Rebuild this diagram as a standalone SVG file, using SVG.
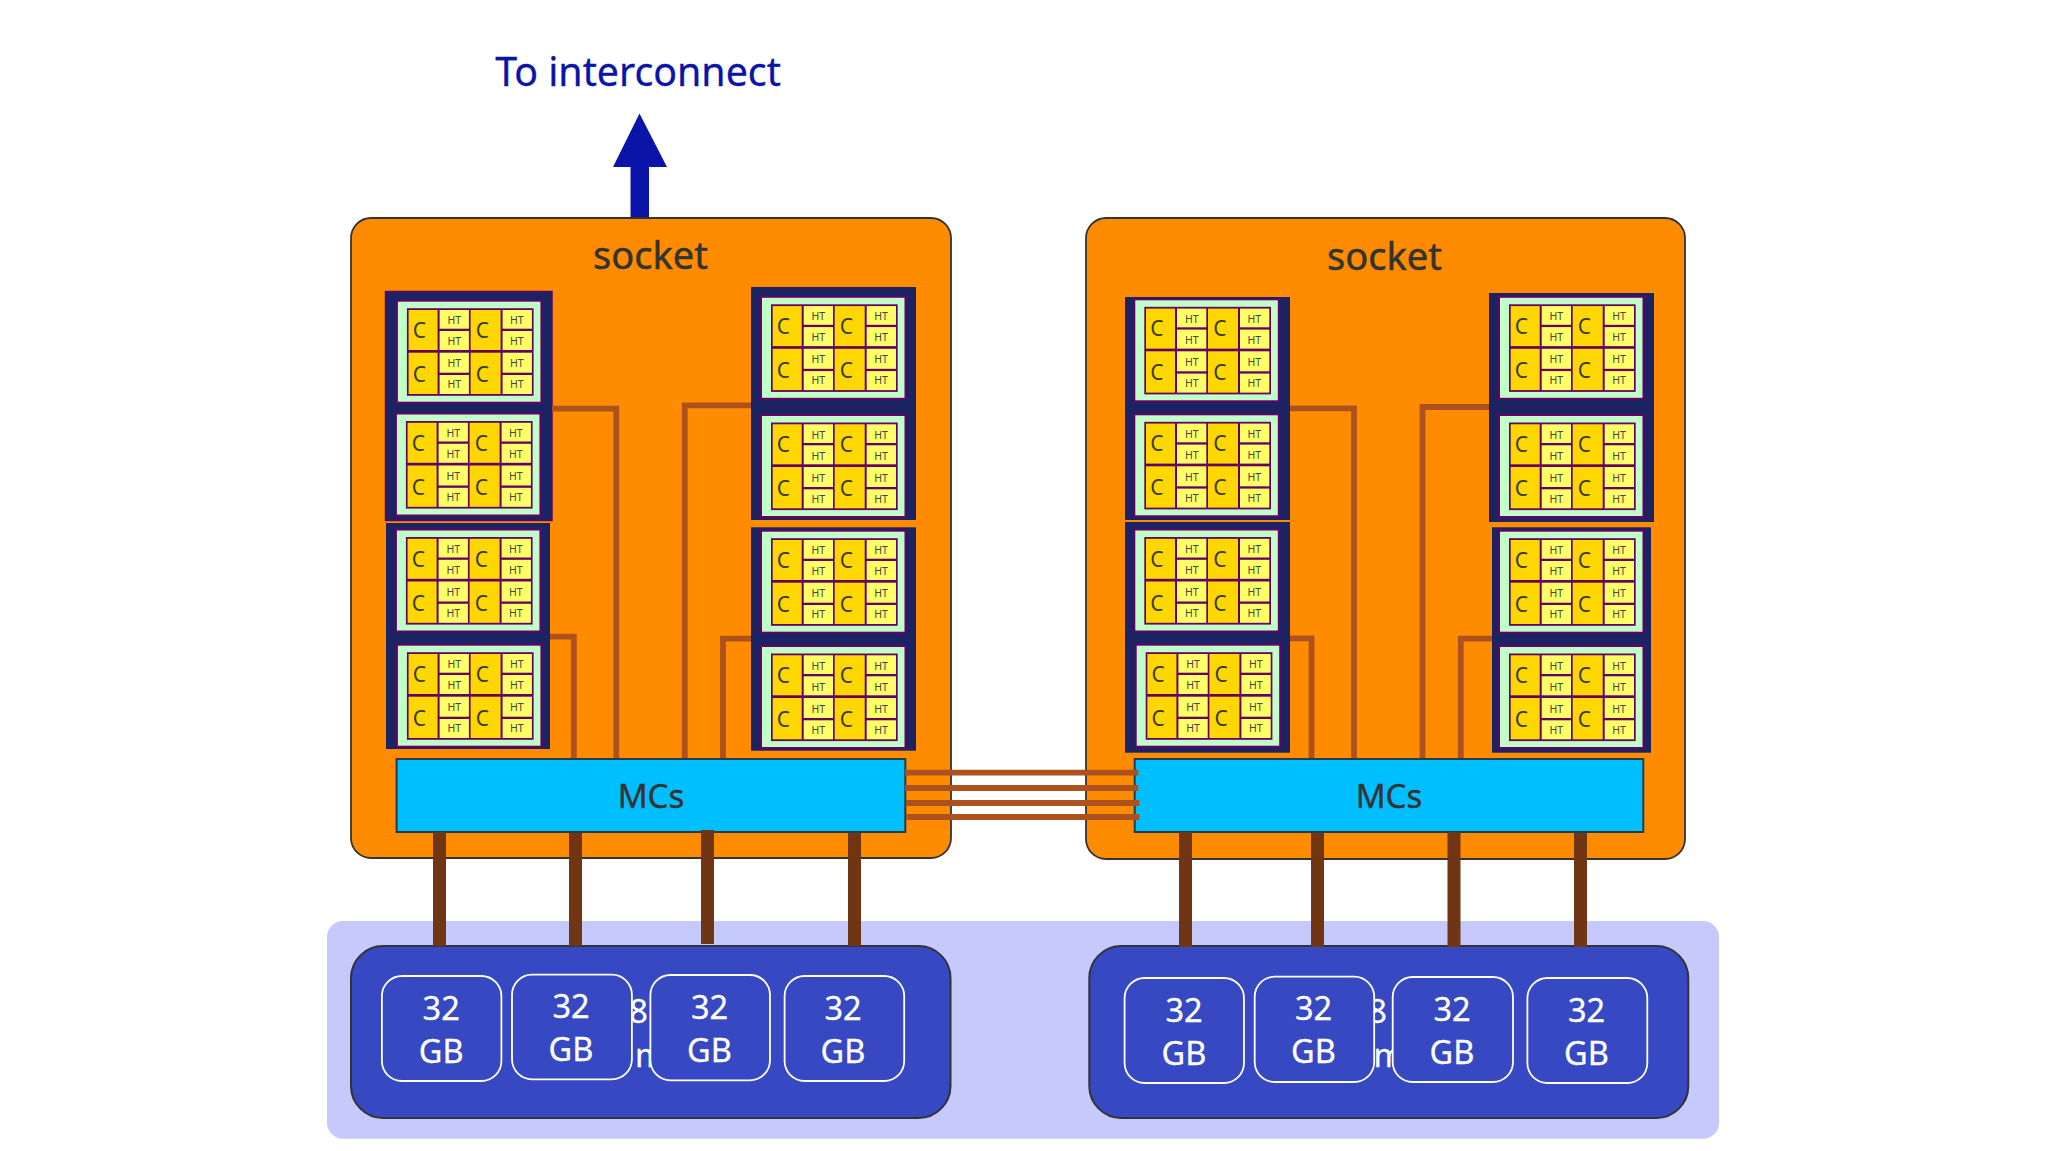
<svg xmlns="http://www.w3.org/2000/svg" xmlns:xlink="http://www.w3.org/1999/xlink" width="2046" height="1151" viewBox="0 0 2046 1151">
<style>
text{font-family:"Noto Sans","DejaVu Sans",sans-serif;text-anchor:middle;fill:#333}
.sock{fill:#ff8c00;stroke:#333;stroke-width:1.8}
.mc{fill:#00bfff;stroke:#2b3a44;stroke-width:2}
.blk{fill:#1c2362}
.t1{font-size:38px;stroke:#333;stroke-width:.5}
.t2{font-size:33px;stroke:#333;stroke-width:.4}
.c{font-size:21px;fill:#3a3a3a}
.h{font-size:10.5px;fill:#444}
.w{font-size:32.5px;fill:#fff;stroke:#fff;stroke-width:.3}
.mem{fill:#3648c2;stroke:#333;stroke-width:2}
.dim{fill:#3648c2;stroke:#fff;stroke-width:1.8}
.lk{fill:none;stroke:#ad521e;stroke-width:5.8}
.ml{fill:none;stroke:#703513;stroke-width:13}
.cc{fill:#ffd700}
.hh{fill:#ffff66}
</style>
<defs>
<g id="dieShape">
<rect x="0" y="0" width="144.5" height="102" fill="#c0ffc8" stroke="#660066" stroke-width="2"/>
<rect x="10" y="7.5" width="126.7" height="87.6" fill="#660066"/>
<rect class="cc" x="11.7" y="9.3" width="29" height="40"/><rect class="cc" x="73.7" y="9.3" width="30" height="40"/>
<rect class="cc" x="11.7" y="52" width="29" height="41.3"/><rect class="cc" x="73.7" y="52" width="30" height="41.3"/>
<rect class="hh" x="42.7" y="9.3" width="29.3" height="18.7"/><rect class="hh" x="105.7" y="9.3" width="29.3" height="18.7"/>
<rect class="hh" x="42.7" y="30.3" width="29.3" height="19"/><rect class="hh" x="105.7" y="30.3" width="29.3" height="19"/>
<rect class="hh" x="42.7" y="52" width="29.3" height="20"/><rect class="hh" x="105.7" y="52" width="29.3" height="20"/>
<rect class="hh" x="42.7" y="74.3" width="29.3" height="19"/><rect class="hh" x="105.7" y="74.3" width="29.3" height="19"/>
</g>
</defs>
<rect id="memory-band" x="327" y="921" width="1392" height="217.7" rx="16" fill="#c6c9fc"/>
<g id="arrow"><path d="M630.5 217V167H613L639.5 113.5L667 167H649V217Z" fill="#0a14a8"/><text x="638" y="86" style="font-size:39.3px;fill:#0a14a8;stroke:#0a14a8;stroke-width:.3">To interconnect</text></g>
<g id="socket-left"><rect class="sock" x="351" y="218" width="600" height="640" rx="20"/><text class="t1" x="650.5" y="269">socket</text></g>
<g id="socket-right"><rect class="sock" x="1086" y="218" width="599" height="641" rx="20"/><text class="t1" x="1384.5" y="270">socket</text></g>
<g id="block-a"><rect class="blk" x="385.5" y="291.5" width="166.5" height="229" stroke="#660066" stroke-width="1.5"/></g>
<g id="block-b"><rect class="blk" x="386" y="523" width="164" height="226"/></g>
<g id="block-c"><rect class="blk" x="751" y="287" width="165" height="233"/></g>
<g id="block-d"><rect class="blk" x="751" y="527.3" width="165" height="223.4"/></g>
<g id="block-e"><rect class="blk" x="1125" y="297" width="165" height="223"/></g>
<g id="block-f"><rect class="blk" x="1125" y="522" width="165" height="230.7"/></g>
<g id="block-g"><rect class="blk" x="1489" y="293" width="165" height="229"/></g>
<g id="block-h"><rect class="blk" x="1492" y="527.3" width="159" height="225.4"/></g>
<g id="die-1" transform="translate(396.9,300.7)"><use href="#dieShape"/><text class="c" x="22.5" y="37">C</text><text class="c" x="85.5" y="37">C</text><text class="c" x="22.5" y="81">C</text><text class="c" x="85.5" y="81">C</text><text class="h" x="57.4" y="23.6">HT</text><text class="h" x="120" y="23.6">HT</text><text class="h" x="57.4" y="44.6">HT</text><text class="h" x="120" y="44.6">HT</text><text class="h" x="57.4" y="66.6">HT</text><text class="h" x="120" y="66.6">HT</text><text class="h" x="57.4" y="87.6">HT</text><text class="h" x="120" y="87.6">HT</text></g>
<g id="die-2" transform="translate(395.9,413.5)"><use href="#dieShape"/><text class="c" x="22.5" y="37">C</text><text class="c" x="85.5" y="37">C</text><text class="c" x="22.5" y="81">C</text><text class="c" x="85.5" y="81">C</text><text class="h" x="57.4" y="23.6">HT</text><text class="h" x="120" y="23.6">HT</text><text class="h" x="57.4" y="44.6">HT</text><text class="h" x="120" y="44.6">HT</text><text class="h" x="57.4" y="66.6">HT</text><text class="h" x="120" y="66.6">HT</text><text class="h" x="57.4" y="87.6">HT</text><text class="h" x="120" y="87.6">HT</text></g>
<g id="die-3" transform="translate(395.9,529.5)"><use href="#dieShape"/><text class="c" x="22.5" y="37">C</text><text class="c" x="85.5" y="37">C</text><text class="c" x="22.5" y="81">C</text><text class="c" x="85.5" y="81">C</text><text class="h" x="57.4" y="23.6">HT</text><text class="h" x="120" y="23.6">HT</text><text class="h" x="57.4" y="44.6">HT</text><text class="h" x="120" y="44.6">HT</text><text class="h" x="57.4" y="66.6">HT</text><text class="h" x="120" y="66.6">HT</text><text class="h" x="57.4" y="87.6">HT</text><text class="h" x="120" y="87.6">HT</text></g>
<g id="die-4" transform="translate(396.9,644.7)"><use href="#dieShape"/><text class="c" x="22.5" y="37">C</text><text class="c" x="85.5" y="37">C</text><text class="c" x="22.5" y="81">C</text><text class="c" x="85.5" y="81">C</text><text class="h" x="57.4" y="23.6">HT</text><text class="h" x="120" y="23.6">HT</text><text class="h" x="57.4" y="44.6">HT</text><text class="h" x="120" y="44.6">HT</text><text class="h" x="57.4" y="66.6">HT</text><text class="h" x="120" y="66.6">HT</text><text class="h" x="57.4" y="87.6">HT</text><text class="h" x="120" y="87.6">HT</text></g>
<g id="die-5" transform="translate(761,296.8)"><use href="#dieShape"/><text class="c" x="22.5" y="37">C</text><text class="c" x="85.5" y="37">C</text><text class="c" x="22.5" y="81">C</text><text class="c" x="85.5" y="81">C</text><text class="h" x="57.4" y="23.6">HT</text><text class="h" x="120" y="23.6">HT</text><text class="h" x="57.4" y="44.6">HT</text><text class="h" x="120" y="44.6">HT</text><text class="h" x="57.4" y="66.6">HT</text><text class="h" x="120" y="66.6">HT</text><text class="h" x="57.4" y="87.6">HT</text><text class="h" x="120" y="87.6">HT</text></g>
<g id="die-6" transform="translate(761,415)"><use href="#dieShape"/><text class="c" x="22.5" y="37">C</text><text class="c" x="85.5" y="37">C</text><text class="c" x="22.5" y="81">C</text><text class="c" x="85.5" y="81">C</text><text class="h" x="57.4" y="23.6">HT</text><text class="h" x="120" y="23.6">HT</text><text class="h" x="57.4" y="44.6">HT</text><text class="h" x="120" y="44.6">HT</text><text class="h" x="57.4" y="66.6">HT</text><text class="h" x="120" y="66.6">HT</text><text class="h" x="57.4" y="87.6">HT</text><text class="h" x="120" y="87.6">HT</text></g>
<g id="die-7" transform="translate(761,530.7)"><use href="#dieShape"/><text class="c" x="22.5" y="37">C</text><text class="c" x="85.5" y="37">C</text><text class="c" x="22.5" y="81">C</text><text class="c" x="85.5" y="81">C</text><text class="h" x="57.4" y="23.6">HT</text><text class="h" x="120" y="23.6">HT</text><text class="h" x="57.4" y="44.6">HT</text><text class="h" x="120" y="44.6">HT</text><text class="h" x="57.4" y="66.6">HT</text><text class="h" x="120" y="66.6">HT</text><text class="h" x="57.4" y="87.6">HT</text><text class="h" x="120" y="87.6">HT</text></g>
<g id="die-8" transform="translate(761,646)"><use href="#dieShape"/><text class="c" x="22.5" y="37">C</text><text class="c" x="85.5" y="37">C</text><text class="c" x="22.5" y="81">C</text><text class="c" x="85.5" y="81">C</text><text class="h" x="57.4" y="23.6">HT</text><text class="h" x="120" y="23.6">HT</text><text class="h" x="57.4" y="44.6">HT</text><text class="h" x="120" y="44.6">HT</text><text class="h" x="57.4" y="66.6">HT</text><text class="h" x="120" y="66.6">HT</text><text class="h" x="57.4" y="87.6">HT</text><text class="h" x="120" y="87.6">HT</text></g>
<g id="die-9" transform="translate(1134.3,299.3)"><use href="#dieShape"/><text class="c" x="22.5" y="37">C</text><text class="c" x="85.5" y="37">C</text><text class="c" x="22.5" y="81">C</text><text class="c" x="85.5" y="81">C</text><text class="h" x="57.4" y="23.6">HT</text><text class="h" x="120" y="23.6">HT</text><text class="h" x="57.4" y="44.6">HT</text><text class="h" x="120" y="44.6">HT</text><text class="h" x="57.4" y="66.6">HT</text><text class="h" x="120" y="66.6">HT</text><text class="h" x="57.4" y="87.6">HT</text><text class="h" x="120" y="87.6">HT</text></g>
<g id="die-10" transform="translate(1134.3,414.3)"><use href="#dieShape"/><text class="c" x="22.5" y="37">C</text><text class="c" x="85.5" y="37">C</text><text class="c" x="22.5" y="81">C</text><text class="c" x="85.5" y="81">C</text><text class="h" x="57.4" y="23.6">HT</text><text class="h" x="120" y="23.6">HT</text><text class="h" x="57.4" y="44.6">HT</text><text class="h" x="120" y="44.6">HT</text><text class="h" x="57.4" y="66.6">HT</text><text class="h" x="120" y="66.6">HT</text><text class="h" x="57.4" y="87.6">HT</text><text class="h" x="120" y="87.6">HT</text></g>
<g id="die-11" transform="translate(1134.3,529.5)"><use href="#dieShape"/><text class="c" x="22.5" y="37">C</text><text class="c" x="85.5" y="37">C</text><text class="c" x="22.5" y="81">C</text><text class="c" x="85.5" y="81">C</text><text class="h" x="57.4" y="23.6">HT</text><text class="h" x="120" y="23.6">HT</text><text class="h" x="57.4" y="44.6">HT</text><text class="h" x="120" y="44.6">HT</text><text class="h" x="57.4" y="66.6">HT</text><text class="h" x="120" y="66.6">HT</text><text class="h" x="57.4" y="87.6">HT</text><text class="h" x="120" y="87.6">HT</text></g>
<g id="die-12" transform="translate(1135.7,644.7)"><use href="#dieShape"/><text class="c" x="22.5" y="37">C</text><text class="c" x="85.5" y="37">C</text><text class="c" x="22.5" y="81">C</text><text class="c" x="85.5" y="81">C</text><text class="h" x="57.4" y="23.6">HT</text><text class="h" x="120" y="23.6">HT</text><text class="h" x="57.4" y="44.6">HT</text><text class="h" x="120" y="44.6">HT</text><text class="h" x="57.4" y="66.6">HT</text><text class="h" x="120" y="66.6">HT</text><text class="h" x="57.4" y="87.6">HT</text><text class="h" x="120" y="87.6">HT</text></g>
<g id="die-13" transform="translate(1499,296.8)"><use href="#dieShape"/><text class="c" x="22.5" y="37">C</text><text class="c" x="85.5" y="37">C</text><text class="c" x="22.5" y="81">C</text><text class="c" x="85.5" y="81">C</text><text class="h" x="57.4" y="23.6">HT</text><text class="h" x="120" y="23.6">HT</text><text class="h" x="57.4" y="44.6">HT</text><text class="h" x="120" y="44.6">HT</text><text class="h" x="57.4" y="66.6">HT</text><text class="h" x="120" y="66.6">HT</text><text class="h" x="57.4" y="87.6">HT</text><text class="h" x="120" y="87.6">HT</text></g>
<g id="die-14" transform="translate(1499,415)"><use href="#dieShape"/><text class="c" x="22.5" y="37">C</text><text class="c" x="85.5" y="37">C</text><text class="c" x="22.5" y="81">C</text><text class="c" x="85.5" y="81">C</text><text class="h" x="57.4" y="23.6">HT</text><text class="h" x="120" y="23.6">HT</text><text class="h" x="57.4" y="44.6">HT</text><text class="h" x="120" y="44.6">HT</text><text class="h" x="57.4" y="66.6">HT</text><text class="h" x="120" y="66.6">HT</text><text class="h" x="57.4" y="87.6">HT</text><text class="h" x="120" y="87.6">HT</text></g>
<g id="die-15" transform="translate(1499,530.7)"><use href="#dieShape"/><text class="c" x="22.5" y="37">C</text><text class="c" x="85.5" y="37">C</text><text class="c" x="22.5" y="81">C</text><text class="c" x="85.5" y="81">C</text><text class="h" x="57.4" y="23.6">HT</text><text class="h" x="120" y="23.6">HT</text><text class="h" x="57.4" y="44.6">HT</text><text class="h" x="120" y="44.6">HT</text><text class="h" x="57.4" y="66.6">HT</text><text class="h" x="120" y="66.6">HT</text><text class="h" x="57.4" y="87.6">HT</text><text class="h" x="120" y="87.6">HT</text></g>
<g id="die-16" transform="translate(1499,646)"><use href="#dieShape"/><text class="c" x="22.5" y="37">C</text><text class="c" x="85.5" y="37">C</text><text class="c" x="22.5" y="81">C</text><text class="c" x="85.5" y="81">C</text><text class="h" x="57.4" y="23.6">HT</text><text class="h" x="120" y="23.6">HT</text><text class="h" x="57.4" y="44.6">HT</text><text class="h" x="120" y="44.6">HT</text><text class="h" x="57.4" y="66.6">HT</text><text class="h" x="120" y="66.6">HT</text><text class="h" x="57.4" y="87.6">HT</text><text class="h" x="120" y="87.6">HT</text></g>
<g id="mc-left"><rect class="mc" x="396.6" y="759" width="508.7" height="73"/><text class="t2" x="651" y="808">MCs</text></g>
<g id="mc-right"><rect class="mc" x="1134.7" y="759" width="508.6" height="73"/><text class="t2" x="1389" y="808">MCs</text></g>
<g id="memory-left"><rect class="mem" x="351" y="946" width="599.5" height="172" rx="32"/>
<text class="w" x="638.5" y="1022.7">8</text><text class="w" x="635" y="1066.7" style="text-anchor:start">m</text>
<g id="dimm-l1"><rect class="dim" x="381.9" y="976" width="119.5" height="105" rx="20"/><text class="w" x="441.2" y="1020">32</text><text class="w" x="441.2" y="1063">GB</text></g>
<g id="dimm-l2"><rect class="dim" x="512" y="974.7" width="119.9" height="104.6" rx="20"/><text class="w" x="571" y="1018">32</text><text class="w" x="571" y="1061">GB</text></g>
<g id="dimm-l3"><rect class="dim" x="650.4" y="975" width="119.6" height="105.3" rx="20"/><text class="w" x="709.5" y="1019">32</text><text class="w" x="709.5" y="1062">GB</text></g>
<g id="dimm-l4"><rect class="dim" x="784.6" y="976" width="119.6" height="105" rx="20"/><text class="w" x="843" y="1020">32</text><text class="w" x="843" y="1063">GB</text></g></g>
<g id="memory-right"><rect class="mem" x="1089.3" y="946" width="599" height="172" rx="32"/>
<text class="w" x="1377.6" y="1022.7">8</text><text class="w" x="1373.6" y="1066.7" style="text-anchor:start">m</text>
<g id="dimm-r1"><rect class="dim" x="1124.6" y="978" width="119.4" height="105" rx="20"/><text class="w" x="1184" y="1022">32</text><text class="w" x="1184" y="1065">GB</text></g>
<g id="dimm-r2"><rect class="dim" x="1254.7" y="976.7" width="119.5" height="105.3" rx="20"/><text class="w" x="1313.5" y="1020">32</text><text class="w" x="1313.5" y="1063">GB</text></g>
<g id="dimm-r3"><rect class="dim" x="1392.7" y="977" width="120.3" height="105" rx="20"/><text class="w" x="1452" y="1021">32</text><text class="w" x="1452" y="1064">GB</text></g>
<g id="dimm-r4"><rect class="dim" x="1527.4" y="978" width="119.9" height="105" rx="20"/><text class="w" x="1586.5" y="1022">32</text><text class="w" x="1586.5" y="1065">GB</text></g></g>
<g id="connectors">
<path class="lk" d="M552 408.7H616.3V758"/>
<path class="lk" d="M751 405.3H684.8V758"/>
<path class="lk" d="M550 636.7H573.8V758"/>
<path class="lk" d="M751 638.7H723V758"/>
<path class="lk" d="M1290 408.3H1354V758"/>
<path class="lk" d="M1489 407H1422.5V758"/>
<path class="lk" d="M1290 638.3H1311.5V758"/>
<path class="lk" d="M1492 638.7H1460.8V758"/>
<path class="lk" d="M905 772.7H1138.3"/>
<path class="lk" d="M905 788H1138.3"/>
<path class="lk" d="M906 803H1139.3"/>
<path class="lk" d="M906 817H1139.3"/>
<path class="ml" d="M439.5 832V946"/>
<path class="ml" d="M575.5 833V946"/>
<path class="ml" d="M707.5 830V944"/>
<path class="ml" d="M854.5 833V946"/>
<path class="ml" d="M1185.5 832V947"/>
<path class="ml" d="M1317.5 833V947"/>
<path class="ml" d="M1454 832V947"/>
<path class="ml" d="M1580.5 833V947"/>
</g>
</svg>
